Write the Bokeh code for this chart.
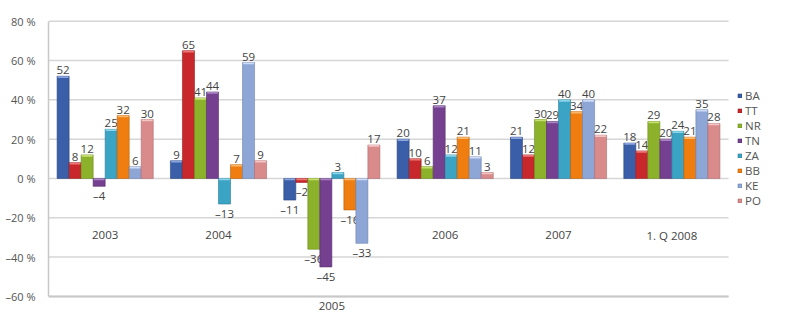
from bokeh.plotting import figure
from bokeh.models import ColumnDataSource, FixedTicker, Legend, LegendItem
from bokeh.core.properties import value
from bokeh.embed import file_html
from bokeh.resources import INLINE

categories = ["2003", "2004", "2005", "2006", "2007", "1. Q 2008"]
series = ["BA", "TT", "NR", "TN", "ZA", "BB", "KE", "PO"]
BA = [52, 9, -11, 20, 21, 18]
TT = [8, 65, -2, 10, 12, 14]
NR = [12, 41, -36, 6, 30, 29]
TN = [-4, 44, -45, 37, 29, 20]
ZA = [25, -13, 3, 12, 40, 24]
BB = [32, 7, -16, 21, 34, 21]
KE = [6, 59, -33, 11, 40, 35]
PO = [30, 9, 17, 3, 22, 28]
values = [BA, TT, NR, TN, ZA, BB, KE, PO]
y_ticks = [-60, -40, -20, 0, 20, 40, 60, 80]

colors = ["#3a5ea8", "#c8282b", "#8cb22b", "#74408f", "#3ba3c4", "#ef7d0f", "#8ea6d6", "#d98b8c"]
edges = ["#2a4580", "#961c1e", "#6a8a1c", "#552d6b", "#2a7d98", "#b85e08", "#6c83b0", "#b06a6b"]
caps = ["#8aa5dd", "#ec7676", "#c6e070", "#a883c2", "#8ad3e8", "#f9b86e", "#cfdcf5", "#f2c4c4"]

FONT = "Open Sans"
n_cat = len(categories)
n_ser = len(series)
bw = 0.106

p = figure(width=800, height=329, x_range=(0, 6.635), y_range=(-68.2, 81.4),
           output_backend="svg", toolbar_location=None, x_axis_location=None,
           min_border_left=48, min_border_right=0, min_border_top=18, min_border_bottom=17,
           outline_line_color=None, background_fill_color="white", border_fill_color="white")
p.xgrid.visible = False
p.ygrid.visible = False

# gridlines
p.segment(x0=[0] * len(y_ticks), x1=[n_cat] * len(y_ticks), y0=y_ticks, y1=y_ticks,
          line_color="#d6d6d6", line_width=1.5)
p.segment(x0=[0], x1=[n_cat], y0=[min(y_ticks)], y1=[min(y_ticks)], line_color="#c8c8c8", line_width=2)

ya = p.yaxis[0]
ya.ticker = FixedTicker(ticks=y_ticks)
ya.major_label_overrides = {t: (f"–{abs(t)} %" if t < 0 else f"{t} %") for t in y_ticks}
ya.bounds = (min(y_ticks), max(y_ticks))
ya.axis_line_color = "#c8c8c8"
ya.axis_line_width = 1.5
ya.major_tick_line_color = None
ya.minor_tick_line_color = None
ya.major_label_standoff = 7
ya.major_label_text_font = FONT
ya.major_label_text_font_size = "11px"
ya.major_label_text_color = "#555555"

items = []
for j, (name, vals) in enumerate(zip(series, values)):
    xs = [i + 0.5 + (j - (n_ser - 1) / 2) * bw for i in range(n_cat)]
    tops = [max(v, 0) for v in vals]
    bots = [min(v, 0) for v in vals]
    src = ColumnDataSource(dict(x=xs, top=tops, bottom=bots, v=vals,
                                lab=[(f"–{abs(v)}" if v < 0 else str(v)) for v in vals]))
    r = p.vbar(x="x", top="top", bottom="bottom", width=bw, source=src,
               fill_color=colors[j], line_color=edges[j], line_width=0.6)
    p.vbar(x=xs, top=tops, bottom=[t - 0.9 for t in tops], width=bw * 0.9,
           fill_color=caps[j], line_color=None)
    items.append(LegendItem(label=name, renderers=[r]))
    pos = ColumnDataSource(dict(x=[x for x, v in zip(xs, vals) if v >= 0],
                                y=[v for v in vals if v >= 0],
                                lab=[str(v) for v in vals if v >= 0]))
    neg = ColumnDataSource(dict(x=[x for x, v in zip(xs, vals) if v < 0],
                                y=[v for v in vals if v < 0],
                                lab=[f"–{abs(v)}" for v in vals if v < 0]))
    p.text(x="x", y="y", text="lab", source=pos, text_align="center", text_baseline="bottom",
           y_offset=-2, text_font=value(FONT), text_font_size="11.5px", text_color="#444444")
    p.text(x="x", y="y", text="lab", source=neg, text_align="center", text_baseline="top",
           y_offset=2, text_font=value(FONT), text_font_size="11.5px", text_color="#444444")

# category labels
cat_y = [(-65 if min(v[i] for v in values) < -20 else -29) for i in range(n_cat)]
p.text(x=[i + 0.5 for i in range(n_cat)], y=cat_y, text=categories, text_align="center",
       text_baseline="middle", text_font=value(FONT), text_font_size="11.5px", text_color="#444444")

legend = Legend(items=items, location=(689, 104), border_line_color=None, background_fill_alpha=0,
                padding=0, margin=0, spacing=0, glyph_width=5, glyph_height=5, label_standoff=3,
                label_height=12, label_text_font=FONT, label_text_font_size="11.5px",
                label_text_color="#555555", label_text_line_height=1.0)
p.add_layout(legend)

open("out.html", "w").write(file_html(p, INLINE))
